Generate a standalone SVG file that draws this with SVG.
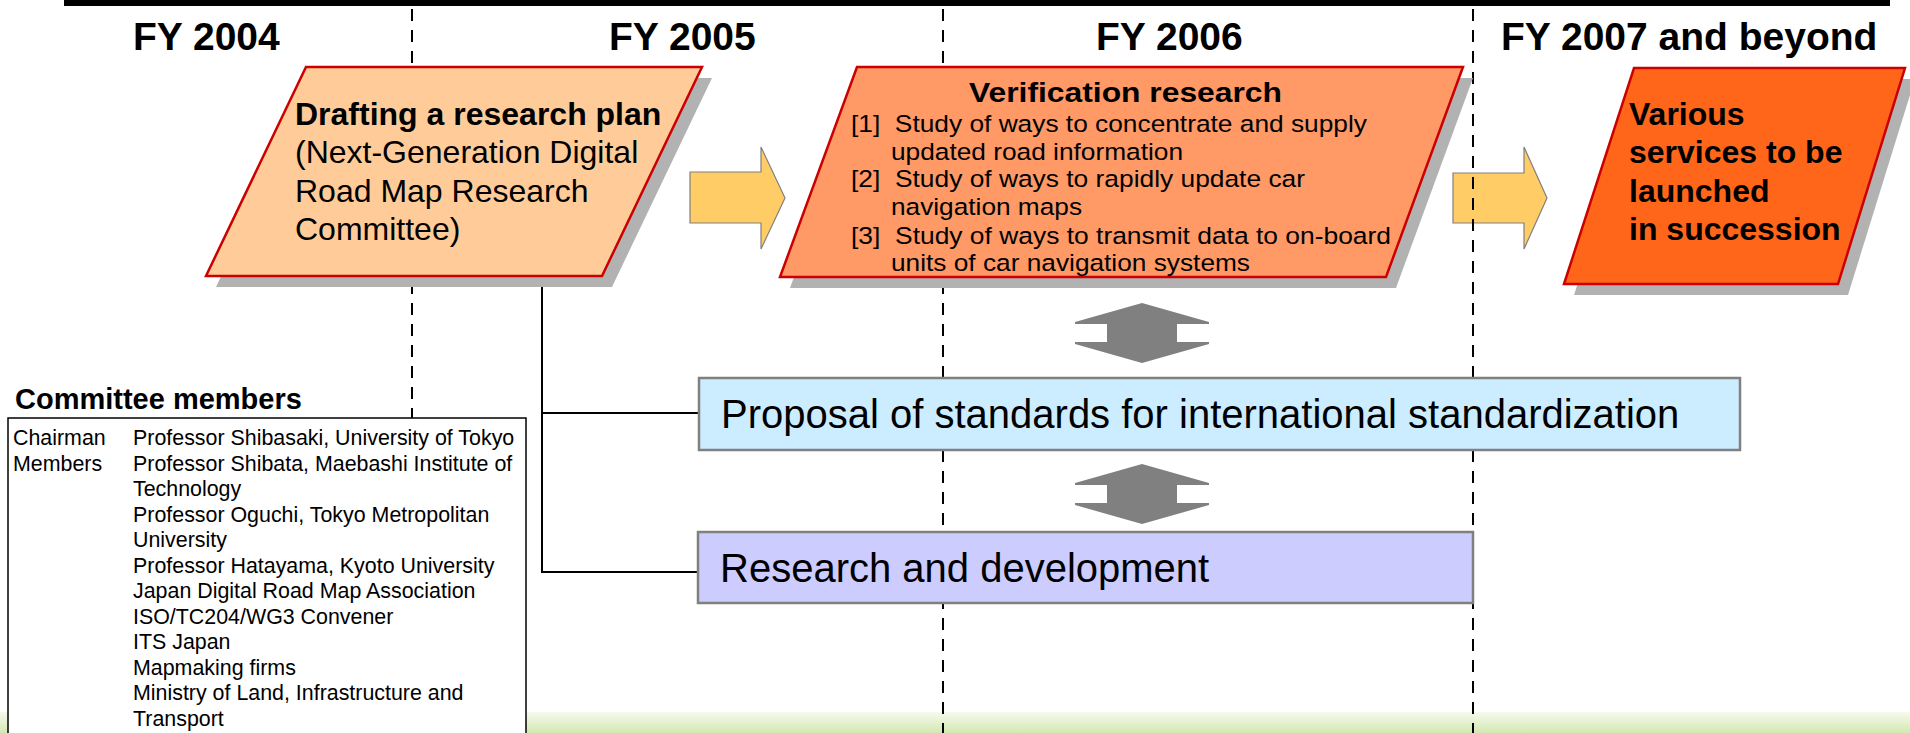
<svg xmlns="http://www.w3.org/2000/svg" width="1910" height="733" viewBox="0 0 1910 733">
<defs>
<style>
.yr{font-family:"Liberation Sans",Arial,sans-serif;font-weight:bold;font-size:39px;fill:#000}
.bt{font-family:"Liberation Sans",Arial,sans-serif;font-weight:bold;font-size:32px;fill:#000}
.rt{font-family:"Liberation Sans",Arial,sans-serif;font-size:32px;fill:#000}
.vt{font-family:"Liberation Sans",Arial,sans-serif;font-weight:bold;font-size:28.5px;fill:#000}
.li{font-family:"Liberation Sans",Arial,sans-serif;font-size:24.5px;fill:#000}
.big{font-family:"Liberation Sans",Arial,sans-serif;font-size:40px;fill:#000}
.ct{font-family:"Liberation Sans",Arial,sans-serif;font-weight:bold;font-size:29px;fill:#000}
.tb{font-family:"Liberation Sans",Arial,sans-serif;font-size:21.4px;fill:#000}
.dash{stroke:#000;stroke-width:2;stroke-dasharray:12 9;fill:none}
.shadow{fill:#B2B2B2}
.para{stroke:#CC0000;stroke-width:2.5}
.yarrow{fill:#FFCC66;stroke:#808080;stroke-width:1.2}
.garrow{fill:#808080}
.rbox{stroke:#808080;stroke-width:2.5}
.conn{stroke:#000;stroke-width:2;fill:none}
</style>
<linearGradient id="grn" x1="0" y1="0" x2="0" y2="1">
<stop offset="0" stop-color="#F6FAEE"/>
<stop offset="1" stop-color="#D4E8B0"/>
</linearGradient>
<path id="dbl" d="M0,0 L67,19 L67,21 L35,21 L35,39 L67,39 L67,41 L0,60 L-67,41 L-67,39 L-35,39 L-35,21 L-67,21 L-67,19 Z"/>
</defs>

<rect x="0" y="0" width="1910" height="733" fill="#FFFFFF"/>
<rect x="0" y="712" width="1910" height="21" fill="url(#grn)"/>

<rect id="topbar" x="64" y="0" width="1826" height="6" fill="#000"/>

<g id="years">
<text class="yr" x="133" y="50">FY 2004</text>
<text class="yr" x="609" y="50">FY 2005</text>
<text class="yr" x="1096" y="50">FY 2006</text>
<text class="yr" x="1501" y="50">FY 2007 and beyond</text>
</g>

<g id="connectors">
<polyline class="conn" points="542,280 542,572 698,572"/>
<line class="conn" x1="542" y1="413" x2="698" y2="413"/>
<polygon id="arrow1" class="yarrow" points="690,172 761,172 761,147 785,198 761,249 761,223 690,223"/>
<polygon id="arrow2" class="yarrow" points="1453,173 1524,173 1524,147 1547,198 1524,249 1524,223 1453,223"/>
<use id="dblarrow1" class="garrow" href="#dbl" x="1142" y="303"/>
<use id="dblarrow2" class="garrow" href="#dbl" x="1142" y="464"/>
</g>

<g id="dividers">
<line class="dash" x1="412" y1="9" x2="412" y2="733"/>
<line class="dash" x1="943" y1="9" x2="943" y2="733"/>
<line class="dash" x1="1473" y1="9" x2="1473" y2="733"/>
</g>

<g id="drafting">
<polygon class="shadow" points="316,78 712,78 612,287 216,287"/>
<polygon class="para" fill="#FFCC99" points="306,67 702,67 602,276 206,276"/>
<text class="bt" x="295" y="125">Drafting a research plan</text>
<text class="rt" x="295" y="163">(Next-Generation Digital</text>
<text class="rt" x="295" y="202">Road Map Research</text>
<text class="rt" x="295" y="240">Committee)</text>
</g>

<g id="verification">
<polygon class="shadow" points="867,78 1473,78 1396,288 790,288"/>
<polygon class="para" fill="#FF9966" points="857,67 1463,67 1386,277 780,277"/>
<text class="vt" x="969" y="102" textLength="313" lengthAdjust="spacingAndGlyphs">Verification research</text>
<text class="li" x="851" y="132" xml:space="preserve" textLength="516" lengthAdjust="spacingAndGlyphs">[1]  Study of ways to concentrate and supply</text>
<text class="li" x="891" y="159.5" textLength="292" lengthAdjust="spacingAndGlyphs">updated road information</text>
<text class="li" x="851" y="187" xml:space="preserve" textLength="454" lengthAdjust="spacingAndGlyphs">[2]  Study of ways to rapidly update car</text>
<text class="li" x="891" y="214.5" textLength="191" lengthAdjust="spacingAndGlyphs">navigation maps</text>
<text class="li" x="851" y="243.5" xml:space="preserve" textLength="540" lengthAdjust="spacingAndGlyphs">[3]  Study of ways to transmit data to on-board</text>
<text class="li" x="891" y="271" textLength="359" lengthAdjust="spacingAndGlyphs">units of car navigation systems</text>
</g>

<g id="services">
<polygon class="shadow" points="1644,79 1915,79 1848,295 1574,295"/>
<polygon class="para" fill="#FF661A" points="1634,68 1905,68 1838,284 1564,284"/>
<text class="bt" x="1629" y="125">Various</text>
<text class="bt" x="1629" y="163">services to be</text>
<text class="bt" x="1629" y="202">launched</text>
<text class="bt" x="1629" y="240">in succession</text>
</g>

<g id="proposal">
<rect class="rbox" x="699" y="378" width="1041" height="72" fill="#CCECFF"/>
<text class="big" x="721" y="428">Proposal of standards for international standardization</text>
</g>

<g id="research">
<rect class="rbox" x="698" y="532" width="775" height="71" fill="#CCCCFF"/>
<text class="big" x="720" y="582">Research and development</text>
</g>

<g id="committee">
<text class="ct" x="15" y="409">Committee members</text>
<rect x="8" y="418" width="518" height="330" fill="#FFFFFF" stroke="#000" stroke-width="1.5"/>
<text class="tb" x="13" y="445">Chairman</text>
<text class="tb" x="13" y="470.5">Members</text>
<text class="tb" x="133" y="445">Professor Shibasaki, University of Tokyo</text>
<text class="tb" x="133" y="470.5">Professor Shibata, Maebashi Institute of</text>
<text class="tb" x="133" y="496">Technology</text>
<text class="tb" x="133" y="521.5">Professor Oguchi, Tokyo Metropolitan</text>
<text class="tb" x="133" y="547">University</text>
<text class="tb" x="133" y="572.5">Professor Hatayama, Kyoto University</text>
<text class="tb" x="133" y="598">Japan Digital Road Map Association</text>
<text class="tb" x="133" y="623.5">ISO/TC204/WG3 Convener</text>
<text class="tb" x="133" y="649">ITS Japan</text>
<text class="tb" x="133" y="674.5">Mapmaking firms</text>
<text class="tb" x="133" y="700">Ministry of Land, Infrastructure and</text>
<text class="tb" x="133" y="725.5">Transport</text>
</g>
</svg>
